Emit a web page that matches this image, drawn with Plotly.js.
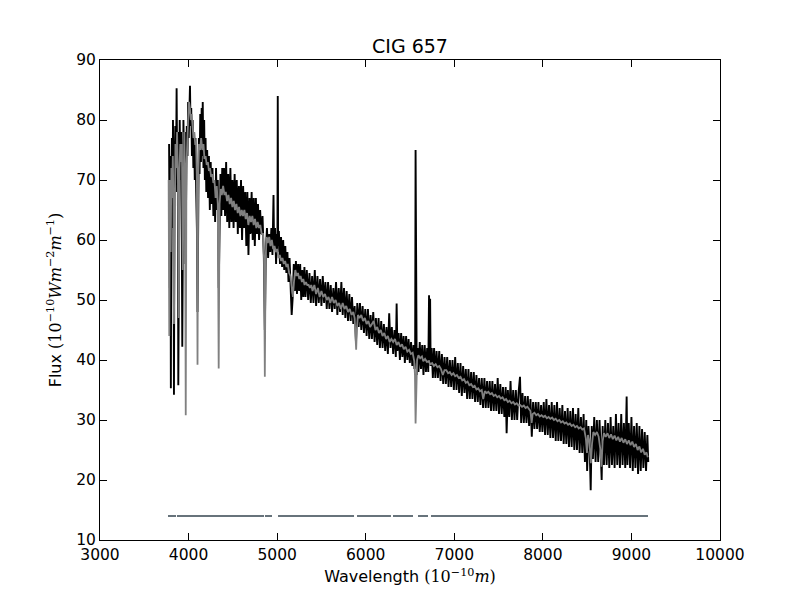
<!DOCTYPE html>
<html>
<head>
<meta charset="utf-8">
<script src="https://cdn.plot.ly/plotly-3.0.1.min.js"></script>
<style>
  body { margin: 0; background: white; }
  #spectrum { width: 800px; height: 600px; }
</style>
</head>
<body>
<div id="spectrum"></div>
<script>
// observed spectrum (black)
var obsWave = [3780, 3788, 3795, 3800, 3806, 3812, 3818, 3824, 3830, 3835, 3842, 3850, 3857, 3865, 3872, 3878, 3884, 3892, 3900, 3908,
  3915, 3922, 3929, 3936, 3942, 3950, 3958, 3965, 3972, 3980, 3988, 3995, 4002, 4010, 4016, 4022, 4030, 4038, 4046, 4054,
  4062, 4070, 4078, 4086, 4094, 4101, 4108, 4116, 4124, 4132, 4140, 4148, 4155, 4160, 4168, 4176, 4184, 4192, 4200, 4210,
  4220, 4230, 4240, 4250, 4260, 4270, 4280, 4290, 4300, 4310, 4320, 4330, 4340, 4350, 4360, 4370, 4380, 4390, 4400, 4412,
  4424, 4436, 4448, 4460, 4472, 4484, 4496, 4508, 4520, 4532, 4544, 4556, 4568, 4580, 4592, 4604, 4616, 4628, 4640, 4652,
  4664, 4676, 4688, 4700, 4712, 4724, 4736, 4748, 4760, 4772, 4784, 4796, 4808, 4820, 4835, 4850, 4861, 4872, 4885, 4898,
  4910, 4922, 4935, 4947, 4959, 4965, 4976, 4988, 4998, 5003, 5007, 5011, 5020, 5032, 5044, 5056, 5068, 5080, 5092, 5104,
  5116, 5128, 5140, 5152, 5164, 5176, 5188, 5200, 5212, 5224, 5236, 5248, 5260, 5272, 5284, 5296, 5308, 5320, 5335, 5350,
  5365, 5380, 5395, 5410, 5425, 5440, 5455, 5470, 5485, 5500, 5515, 5530, 5545, 5560, 5575, 5590, 5605, 5620, 5635, 5650,
  5665, 5680, 5695, 5710, 5725, 5740, 5755, 5770, 5785, 5800, 5815, 5830, 5845, 5860, 5875, 5890, 5905, 5920, 5935, 5950,
  5965, 5980, 5995, 6010, 6025, 6040, 6055, 6070, 6085, 6100, 6115, 6130, 6145, 6160, 6175, 6190, 6205, 6220, 6235, 6250,
  6265, 6280, 6295, 6310, 6325, 6340, 6349, 6358, 6372, 6386, 6400, 6414, 6428, 6442, 6456, 6470, 6484, 6498, 6512, 6526,
  6540, 6550, 6558, 6563, 6568, 6576, 6585, 6596, 6610, 6624, 6638, 6652, 6666, 6680, 6694, 6706, 6715, 6720, 6727, 6733,
  6745, 6758, 6772, 6786, 6800, 6815, 6830, 6845, 6860, 6875, 6890, 6905, 6920, 6935, 6950, 6965, 6980, 6995, 7010, 7025,
  7040, 7055, 7070, 7085, 7100, 7115, 7130, 7145, 7160, 7175, 7190, 7205, 7220, 7235, 7250, 7265, 7280, 7295, 7310, 7325,
  7340, 7355, 7370, 7385, 7400, 7415, 7430, 7445, 7460, 7475, 7490, 7505, 7520, 7535, 7550, 7565, 7580, 7591, 7605, 7620,
  7635, 7650, 7665, 7680, 7695, 7710, 7725, 7742, 7755, 7770, 7785, 7800, 7815, 7830, 7845, 7860, 7875, 7890, 7905, 7920,
  7935, 7950, 7965, 7980, 7995, 8010, 8025, 8040, 8055, 8070, 8085, 8100, 8115, 8130, 8145, 8160, 8175, 8190, 8205, 8220,
  8235, 8250, 8265, 8280, 8295, 8310, 8325, 8340, 8355, 8370, 8385, 8400, 8415, 8430, 8445, 8460, 8475, 8490, 8500, 8515,
  8530, 8540, 8552, 8565, 8580, 8595, 8610, 8625, 8640, 8655, 8664, 8675, 8690, 8705, 8720, 8735, 8750, 8765, 8780, 8795,
  8810, 8825, 8840, 8855, 8870, 8885, 8900, 8915, 8930, 8946, 8955, 8970, 8985, 9000, 9015, 9030, 9045, 9060, 9075, 9090,
  9105, 9120, 9135, 9150, 9165, 9180, 9190];
var obsFlux = [76, 52, 74, 35.3, 70, 77, 62, 80, 66, 34.2, 72, 79, 68, 85.3, 70, 78, 35.8, 74, 80, 70,
  78, 65, 42.2, 60, 80, 72, 78, 56, 68, 79, 74, 83, 77, 84, 85.7, 79, 82, 74, 80, 72,
  78, 70, 77, 68, 62, 48, 70, 77, 71, 81, 73, 82, 74, 83, 72, 80, 70, 77, 68, 75,
  67, 74, 65, 73, 66, 72, 64, 70, 63, 72, 65, 70, 52, 66, 71, 64, 72, 65, 72, 64,
  73, 63, 71, 62, 72, 63, 70, 62, 71, 63, 70, 61, 69, 62, 70, 60, 69, 62, 68, 59,
  68, 57.5, 67, 61, 68, 60, 67, 59, 67, 61, 66, 60, 65, 61, 64, 57, 45, 58, 62, 57,
  61, 58, 62, 57.5, 67.5, 59, 62, 56, 61, 58, 84, 59, 61.5, 56, 60.5, 55.5, 60, 55, 59, 54.5,
  58, 53, 57, 52, 47.5, 50.5, 56, 51.5, 56.5, 51, 56, 51.5, 56, 50, 55, 50.5, 55.5, 50.5, 55, 50,
  54.5, 49.5, 54, 49.5, 55, 49, 54, 49.5, 53.5, 49, 54, 49.5, 53, 48.5, 53, 48.5, 52.5, 48, 52, 48.5,
  53, 47.5, 52, 48, 53, 47.5, 52, 47, 51.5, 46.5, 51, 46.5, 50.5, 46, 49, 43, 49.5, 45.5, 49.5, 45,
  49, 44.5, 48.5, 44, 48.5, 43.5, 47.5, 43.5, 48, 43, 47, 42.5, 47, 42, 46.5, 42, 46, 41.5, 45.5, 41,
  47.8, 42, 45.5, 41, 45, 40.5, 49.4, 41.5, 44.5, 40, 44.5, 40.5, 44, 39.5, 44, 40, 43.5, 39.5, 43, 39,
  42.5, 38.5, 41, 75, 40, 37.5, 42, 38, 43, 38.5, 42.5, 37.5, 42.5, 38, 42, 38, 50.8, 40, 50.2, 39,
  42, 37, 42, 37, 41.5, 37, 41.5, 36.5, 41, 36, 40.5, 36, 40.5, 35.5, 40, 35.5, 40, 35, 40.5, 35,
  39.5, 34.5, 39.5, 34, 39, 34.5, 38.5, 33.5, 38.5, 33.5, 38, 33.5, 38, 33, 37.5, 33, 37, 32.5, 37, 32,
  37, 32, 36.5, 32, 36.5, 31.5, 36.5, 31.5, 36, 31.5, 37, 31, 36, 31, 35.5, 30.5, 35.5, 27.8, 35, 30.5,
  36.5, 30, 35, 30, 35, 30, 34.5, 37.2, 29.5, 34.5, 29.5, 34, 29.5, 34, 29, 33.5, 27.2, 33, 28.5, 33,
  28.5, 33, 28, 32.5, 28, 33, 27.5, 33.5, 27.5, 32.5, 27, 33, 27, 32.5, 26.5, 33, 26.5, 32, 26.5, 32.5,
  26, 31.5, 26, 32, 25.5, 31.5, 25.5, 32, 25, 31, 25, 32, 24.5, 30.5, 24.5, 31, 23, 30, 21.5, 29,
  24.5, 18.3, 29, 23.5, 30.5, 23, 30, 23, 30, 22, 20, 29, 22.5, 30, 22.5, 29.5, 22, 30.5, 22.5, 29,
  22, 31, 22.5, 29.5, 22, 31, 22.5, 29.5, 22, 33.9, 22.5, 29.5, 22, 30.5, 21.5, 29, 22, 29.5, 21, 29,
  21.5, 28.5, 22, 28, 21.5, 27.5, 23];

// model fit (grey)
var fitWave = [3775, 3782, 3790, 3798, 3806, 3815, 3822, 3830, 3835, 3842, 3852, 3862, 3870, 3880, 3889, 3898, 3906, 3915, 3925, 3934,
  3944, 3952, 3960, 3968, 3976, 3985, 3995, 4005, 4015, 4025, 4035, 4045, 4055, 4065, 4075, 4085, 4094, 4101, 4108, 4118,
  4130, 4142, 4155, 4168, 4180, 4192, 4205, 4218, 4230, 4242, 4255, 4268, 4280, 4292, 4305, 4318, 4330, 4340, 4350, 4362,
  4375, 4390, 4405, 4420, 4435, 4450, 4465, 4480, 4495, 4510, 4525, 4540, 4555, 4570, 4585, 4600, 4615, 4630, 4645, 4660,
  4675, 4690, 4705, 4720, 4735, 4750, 4765, 4780, 4795, 4810, 4825, 4840, 4852, 4861, 4870, 4882, 4895, 4910, 4925, 4940,
  4955, 4970, 4985, 5000, 5015, 5030, 5045, 5060, 5075, 5090, 5105, 5120, 5135, 5150, 5165, 5178, 5190, 5205, 5220, 5235,
  5250, 5265, 5280, 5295, 5310, 5325, 5340, 5355, 5370, 5385, 5400, 5420, 5440, 5460, 5480, 5500, 5520, 5540, 5560, 5580,
  5600, 5620, 5640, 5660, 5680, 5700, 5720, 5740, 5760, 5780, 5800, 5820, 5840, 5860, 5875, 5885, 5892, 5900, 5912, 5930,
  5950, 5970, 5990, 6010, 6030, 6050, 6070, 6090, 6110, 6130, 6150, 6170, 6190, 6210, 6230, 6250, 6270, 6290, 6310, 6330,
  6350, 6370, 6390, 6410, 6430, 6450, 6470, 6490, 6510, 6530, 6548, 6556, 6563, 6570, 6580, 6595, 6615, 6635, 6650, 6670,
  6690, 6710, 6730, 6750, 6770, 6790, 6810, 6830, 6850, 6870, 6890, 6910, 6930, 6950, 6970, 6990, 7010, 7030, 7050, 7070,
  7090, 7110, 7130, 7150, 7170, 7190, 7210, 7230, 7250, 7270, 7290, 7310, 7327, 7345, 7365, 7385, 7405, 7425, 7445, 7465,
  7485, 7505, 7525, 7545, 7565, 7585, 7605, 7625, 7645, 7665, 7685, 7705, 7725, 7745, 7765, 7785, 7805, 7825, 7845, 7860,
  7873, 7885, 7905, 7925, 7945, 7965, 7985, 8005, 8025, 8045, 8065, 8085, 8105, 8125, 8145, 8165, 8185, 8205, 8225, 8245,
  8265, 8285, 8305, 8325, 8345, 8365, 8385, 8405, 8425, 8445, 8465, 8485, 8498, 8510, 8525, 8542, 8555, 8570, 8590, 8610,
  8630, 8650, 8662, 8675, 8690, 8710, 8730, 8750, 8770, 8790, 8810, 8830, 8850, 8870, 8890, 8910, 8930, 8950, 8970, 8990,
  9010, 9030, 9050, 9070, 9090, 9110, 9130, 9150, 9170, 9185];
var fitFlux = [70, 44, 70, 58, 72, 67, 74, 66, 46, 70, 76, 72, 78, 70, 47, 72, 76, 73, 76, 55,
  74, 78, 70, 30.8, 72, 78, 80, 83, 82, 80, 81, 79, 77, 78, 76, 76, 70, 39.2, 70, 76,
  75, 77, 75, 76, 73.5, 74, 72.5, 73, 71.5, 72, 70.5, 71, 69.5, 70, 67, 69, 66, 38.6, 66, 68.5,
  67.5, 69, 67.5, 68, 66.5, 67.5, 66, 67, 65.5, 66.5, 65, 66, 64.5, 65.5, 64, 65, 64, 65, 63.5, 64.5,
  62.5, 64, 63, 64, 62.5, 63.5, 62, 63, 62, 62.5, 61, 61, 57, 37.2, 57, 60.5, 59.5, 60.5, 59, 60,
  58.5, 59, 58, 58.5, 57, 57.5, 56.5, 57, 56, 56.5, 55.5, 56, 54.5, 54, 51.5, 50.5, 53, 55, 54, 54.5,
  53.5, 54, 53, 53.5, 52.5, 53, 52.5, 52.5, 52, 52.5, 51.5, 52.5, 51, 52, 50.5, 51.5, 50.5, 51, 50, 50.5,
  49.5, 50.5, 49.5, 50, 49, 49.5, 48.5, 49.5, 48.5, 49, 48, 48.5, 47.5, 48, 47, 43, 41.7, 45, 47.5, 47,
  47.5, 46.5, 47, 46, 46.5, 45.5, 46, 46.5, 45, 45.5, 44.5, 45, 44, 44.5, 43.5, 44, 43, 43.5, 43, 43.5,
  42.5, 43, 42.2, 42.6, 41.8, 42.2, 41.4, 41.7, 41, 41.2, 39.8, 37.5, 29.4, 36.5, 40, 40.8, 40.3, 40.6, 39.8, 40.2,
  39.7, 39.8, 39.3, 39.5, 39, 39.3, 38.8, 39, 38.5, 37.5, 38.3, 38.3, 37.8, 38, 37.5, 37.8, 37.3, 37.5, 37, 37.2,
  36.6, 36.8, 36.2, 36.4, 35.8, 36, 35.5, 35.7, 35.1, 35.3, 34.8, 35, 33.5, 34.8, 34.5, 34.7, 34.3, 34.5, 34, 34.2,
  33.8, 34, 33.6, 33.8, 33.3, 33.5, 33, 33.2, 32.8, 33, 32.6, 32.8, 32.4, 32.5, 32.2, 32.4, 32, 32.2, 31.8, 31.5,
  29.5, 31, 31.2, 30.8, 31, 30.6, 30.8, 30.5, 30.7, 30.3, 30.5, 30.2, 30.4, 30, 30.2, 29.8, 30, 29.6, 29.8, 29.4,
  29.6, 29.2, 29.4, 29, 29.2, 28.8, 29, 28.6, 28.8, 28.4, 28.6, 27, 24.5, 27.5, 26.5, 22.8, 26, 28, 27.5, 28,
  27.2, 25, 22.2, 26.5, 27.8, 27.2, 27.8, 27, 27.6, 26.8, 27.4, 26.6, 27.2, 26.4, 27, 26.2, 26.8, 26, 26.6, 25.8,
  26.4, 25.5, 26, 25, 25.6, 24.6, 25.2, 24.2, 24.6, 23.8];

// fitted wavelength ranges shown along the bottom
var maskStart = [3768, 3869, 4863, 5010, 5902, 6308, 6590, 6737];
var maskEnd = [3858, 4852, 4942, 5868, 6285, 6534, 6703, 9187];
var maskLevel = 14;

var maskX = [];
var maskY = [];
for (var i = 0; i < maskStart.length; i++) {
  maskX.push(maskStart[i], maskEnd[i], null);
  maskY.push(maskLevel, maskLevel, null);
}

var data = [
  {
    x: obsWave,
    y: obsFlux,
    type: 'scatter',
    mode: 'lines',
    line: { color: 'black', width: 1.9 }
  },
  {
    x: fitWave,
    y: fitFlux,
    type: 'scatter',
    mode: 'lines',
    line: { color: '#808080', width: 1.8 }
  },
  {
    x: maskX,
    y: maskY,
    type: 'scatter',
    mode: 'lines',
    connectgaps: false,
    line: { color: '#67737b', width: 2 }
  }
];

var axisStyle = {
  showline: true,
  linecolor: 'black',
  linewidth: 1,
  mirror: 'ticks',
  ticks: 'inside',
  ticklen: 7,
  tickcolor: 'black',
  showgrid: false,
  zeroline: false,
  tickformat: 'd',
  tickfont: { family: 'DejaVu Sans', size: 15.5, color: 'black' }
};

var layout = {
  width: 800,
  height: 600,
  margin: { l: 100, r: 80, t: 60, b: 60 },
  paper_bgcolor: 'white',
  plot_bgcolor: 'white',
  showlegend: false,
  font: { family: 'DejaVu Sans', color: 'black' },
  title: {
    text: 'CIG 657',
    font: { family: 'DejaVu Sans', size: 19, color: 'black' },
    x: 0.5125,
    xanchor: 'center',
    y: 0.922,
    yanchor: 'middle'
  },
  xaxis: Object.assign({}, axisStyle, {
    range: [3000, 10000],
    dtick: 1000,
    tick0: 3000,
    title: {
      text: 'Wavelength <span style="font-family:DejaVu Serif">(10<sup>−10</sup><i>m</i>)</span>',
      font: { family: 'DejaVu Sans', size: 16, color: 'black' },
      standoff: 8
    }
  }),
  yaxis: Object.assign({}, axisStyle, {
    range: [10, 90],
    dtick: 10,
    tick0: 10,
    title: {
      text: 'Flux <span style="font-family:DejaVu Serif">(10<sup>−10</sup><i>Wm</i><sup>−2</sup><i>m</i><sup>−1</sup>)</span>',
      font: { family: 'DejaVu Sans', size: 16, color: 'black' },
      standoff: 10
    }
  })
};

Plotly.newPlot('spectrum', data, layout, { staticPlot: true });
</script>
</body>
</html>
